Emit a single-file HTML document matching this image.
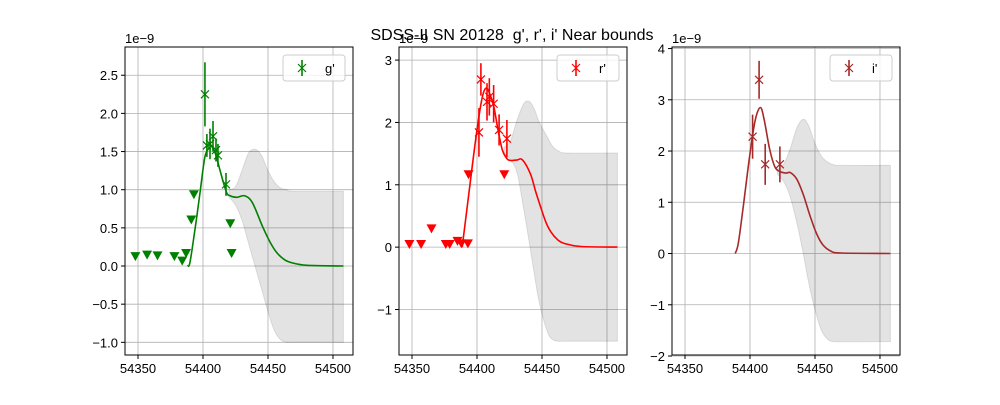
<!DOCTYPE html>
<html><head><meta charset="utf-8">
<style>
body{margin:0;background:#fff;}
svg text{font-family:"Liberation Sans","DejaVu Sans",sans-serif;font-size:13px;fill:#000;}
</style></head>
<body>
<svg id="fig" width="1000" height="400" xmlns="http://www.w3.org/2000/svg">
<rect width="1000" height="400" fill="#fff"/>
<text x="512" y="40" text-anchor="middle" style="font-size:16px;white-space:pre" xml:space="preserve">SDSS-II SN 20128  g', r', i' Near bounds</text>
</svg>
<script>
// ---- data ----
const gDetDays=[54401.5,54403,54405.4,54407.7,54410,54411.5,54417.7];
const gDetVals=[2.25,1.58,1.6,1.7,1.52,1.45,1.07];
const gDetErr=[0.42,0.15,0.2,0.2,0.15,0.15,0.15];
const gLimDays=[54348,54357,54365,54378,54384,54387,54391,54393,54421,54422];
const gLimVals=[0.13,0.15,0.14,0.13,0.07,0.17,0.61,0.94,0.56,0.17];
const gCurveDays=[54388,54390,54394,54397.7,54401.5,54405,54407,54410,54413,54418,54421,54426,54432,54438,54446,54452,54457,54463,54469,54480,54508];
const gCurveVals=[0,0.05,0.5,0.96,1.43,1.55,1.56,1.45,1.26,0.97,0.92,0.9,0.92,0.83,0.51,0.3,0.17,0.08,0.04,0.01,0];
const gBandDays=[54420,54425,54430,54435,54440,54445,54450,54455,54460,54465,54470,54508];
const gBandUp=[1.0,1.04,1.25,1.48,1.53,1.45,1.25,1.1,1.02,1.0,0.98,0.98];
const gBandLo=[0.9,0.8,0.6,0.3,0.0,-0.3,-0.6,-0.85,-0.97,-1.0,-1.0,-1.0];

const rDetDays=[54401.5,54403,54407.7,54409.5,54412.8,54417,54423];
const rDetVals=[1.84,2.69,2.33,2.41,2.3,1.88,1.74];
const rDetErr=[0.39,0.26,0.3,0.3,0.3,0.25,0.3];
const rLimDays=[54348,54357,54365,54376,54379,54385,54388,54393,54393.5,54421];
const rLimVals=[0.05,0.05,0.3,0.05,0.05,0.1,0.06,0.06,1.17,1.17];
const rCurveDays=[54388.6,54391,54395,54400,54404,54407,54410,54413,54416,54419.5,54423,54426,54431,54435,54441,54445,54449,54453,54457,54462,54467,54480,54508];
const rCurveVals=[0,0.4,1.07,1.88,2.4,2.55,2.45,2.25,1.9,1.56,1.42,1.39,1.4,1.4,1.18,0.9,0.64,0.4,0.24,0.12,0.06,0.01,0];
const rBandDays=[54421,54426,54431,54436,54440,54444,54448,54454,54458,54463,54470,54508];
const rBandUp=[1.6,1.72,2.05,2.3,2.34,2.22,2.0,1.77,1.62,1.54,1.51,1.51];
const rBandLo=[1.5,1.4,1.18,0.6,0.1,-0.42,-0.9,-1.35,-1.48,-1.51,-1.51,-1.51];

const iDetDays=[54402,54407,54411.7,54423];
const iDetVals=[2.28,3.39,1.74,1.74];
const iDetErr=[0.43,0.37,0.4,0.35];
const iCurveDays=[54388.6,54391,54395,54400,54404,54408,54411,54415,54419,54423,54428,54431,54436,54441,54446,54451,54456,54462,54470,54508];
const iCurveVals=[0,0.2,0.95,1.95,2.6,2.85,2.6,2.05,1.7,1.6,1.57,1.58,1.45,1.15,0.75,0.4,0.17,0.05,0.01,0];
const iBandDays=[54421,54426,54431,54436,54441,54445,54450,54455,54460,54465,54470,54508];
const iBandUp=[1.65,1.75,2.05,2.45,2.62,2.5,2.15,1.9,1.78,1.73,1.72,1.72];
const iBandLo=[1.55,1.4,1.1,0.6,0.0,-0.55,-1.1,-1.5,-1.68,-1.72,-1.72,-1.72];

const xTicks=[54350,54400,54450,54500];
const gYTicks=[-1.0,-0.5,0,0.5,1.0,1.5,2.0,2.5];
const rYTicks=[-1,0,1,2,3];
const iYTicks=[-2,-1,0,1,2,3,4];

const NS="http://www.w3.org/2000/svg";
const fig=document.getElementById('fig');
function mk(tag,attrs,parent){const e=document.createElementNS(NS,tag);for(const k in attrs)e.setAttribute(k,attrs[k]);(parent||fig).appendChild(e);return e;}
function smooth(pts){let d='M'+pts[0][0]+','+pts[0][1];for(let i=0;i<pts.length-1;i++){const p0=pts[Math.max(0,i-1)],p1=pts[i],p2=pts[i+1],p3=pts[Math.min(pts.length-1,i+2)];
const c1=[p1[0]+(p2[0]-p0[0])/6,p1[1]+(p2[1]-p0[1])/6],c2=[p2[0]-(p3[0]-p1[0])/6,p2[1]-(p3[1]-p1[1])/6];
d+=' C'+c1[0].toFixed(1)+','+c1[1].toFixed(1)+' '+c2[0].toFixed(1)+','+c2[1].toFixed(1)+' '+p2[0].toFixed(1)+','+p2[1].toFixed(1);}return d;}
function fmt(v,dec){let s=dec?v.toFixed(1):String(v);return s.replace('-','\u2212');}

function panel(o){
  const L=o.left,R=o.left+228,T=47,B=355;
  const xs=d=>L+(d-54340)/(54515.4-54340)*(R-L);
  const ys=v=>B-(v-o.ymin)/(o.ymax-o.ymin)*(B-T);
  const g=mk('g',{});
  
  
  xTicks.forEach(t=>{const l=mk('line',{x1:xs(t),x2:xs(t),y1:T,y2:B,stroke:'#b0b0b0','stroke-width':0.8},g);
    });
  o.yticks.forEach(t=>{const l=mk('line',{x1:L,x2:R,y1:ys(t),y2:ys(t),stroke:'#b0b0b0','stroke-width':0.8},g);
    });
  let bp=[];o.bandDays.forEach((d,i)=>bp.push([xs(d),ys(o.bandUp[i])]));
  let lp=[];o.bandDays.forEach((d,i)=>lp.push([xs(d),ys(o.bandLo[i])]));
  const upPath=smooth(bp);const loRev=lp.slice().reverse();
  const band=mk('path',{d:upPath+' L'+loRev[0][0]+','+loRev[0][1]+smooth(loRev).replace(/^M[^ ]*/,'')+' Z',fill:'#000','fill-opacity':0.11,stroke:'#000','stroke-opacity':0.1},g);
  
  const cp=o.curveDays.map((d,i)=>[xs(d),ys(o.curveVals[i])]);
  const c=mk('path',{d:smooth(cp),fill:'none',stroke:o.color,'stroke-width':1.6},g);
  
  (o.limDays||[]).forEach((d,i)=>{const x=xs(d),y=ys(o.limVals[i]);
    const t=mk('path',{d:`M${x-5},${y-4} L${x+5},${y-4} L${x},${y+5} Z`,fill:o.color},g);
    });
  o.detDays.forEach((d,i)=>{const x=xs(d),y=ys(o.detVals[i]);
    const e=mk('line',{x1:x,x2:x,y1:ys(o.detVals[i]+o.detErr[i]),y2:ys(o.detVals[i]-o.detErr[i]),stroke:o.color,'stroke-width':1.6},g);
    
    const m=mk('path',{d:`M${x-4},${y-4} L${x+4},${y+4} M${x-4},${y+4} L${x+4},${y-4}`,stroke:o.color,'stroke-width':1.2},g);
    });
  const f=mk('rect',{x:L,y:T,width:R-L,height:B-T,fill:'none',stroke:'#000','stroke-width':1},g);
  
  xTicks.forEach(t=>{mk('line',{x1:xs(t),x2:xs(t),y1:B,y2:B+4,stroke:'#000'},g);
    const tx=mk('text',{x:xs(t),y:B+18,'text-anchor':'middle'},g);tx.textContent=t;
    });
  o.yticks.forEach(t=>{mk('line',{x1:L-4,x2:L,y1:ys(t),y2:ys(t),stroke:'#000'},g);
    const tx=mk('text',{x:L-7,y:ys(t)+5,'text-anchor':'end'},g);tx.textContent=fmt(t,o.dec);
    });
  const off=mk('text',{x:L,y:T-4},g);off.textContent='1e\u22129';
  
  const lg=mk('g',{},g);
  mk('rect',{x:R-70,y:T+8,width:62,height:26,rx:3,fill:'#fff','fill-opacity':0.8,stroke:'#ccc'},lg);
  const lx=R-51,ly=T+21;
  mk('line',{x1:lx,x2:lx,y1:ly-8,y2:ly+8,stroke:o.color,'stroke-width':1.6},lg);
  mk('path',{d:`M${lx-4},${ly-4} L${lx+4},${ly+4} M${lx-4},${ly+4} L${lx+4},${ly-4}`,stroke:o.color,'stroke-width':1.2},lg);
  const lt=mk('text',{x:R-28,y:ly+5},lg);lt.textContent=o.label;
  
}
panel({name:'g-band',left:125,color:'#008000',label:"g'",ymin:-1.166,ymax:2.87,yticks:gYTicks,dec:true,
  detDays:gDetDays,detVals:gDetVals,detErr:gDetErr,limDays:gLimDays,limVals:gLimVals,
  curveDays:gCurveDays,curveVals:gCurveVals,bandDays:gBandDays,bandUp:gBandUp,bandLo:gBandLo});
panel({name:'r-band',left:399,color:'#ff0000',label:"r'",ymin:-1.73,ymax:3.21,yticks:rYTicks,dec:false,
  detDays:rDetDays,detVals:rDetVals,detErr:rDetErr,limDays:rLimDays,limVals:rLimVals,
  curveDays:rCurveDays,curveVals:rCurveVals,bandDays:rBandDays,bandUp:rBandUp,bandLo:rBandLo});
panel({name:'i-band',left:672,color:'#a52a2a',label:"i'",ymin:-1.98,ymax:4.03,yticks:iYTicks,dec:false,
  detDays:iDetDays,detVals:iDetVals,detErr:iDetErr,limDays:[],limVals:[],
  curveDays:iCurveDays,curveVals:iCurveVals,bandDays:iBandDays,bandUp:iBandUp,bandLo:iBandLo});
fig.appendChild(fig.querySelector('text'));
</script>
</body></html>
